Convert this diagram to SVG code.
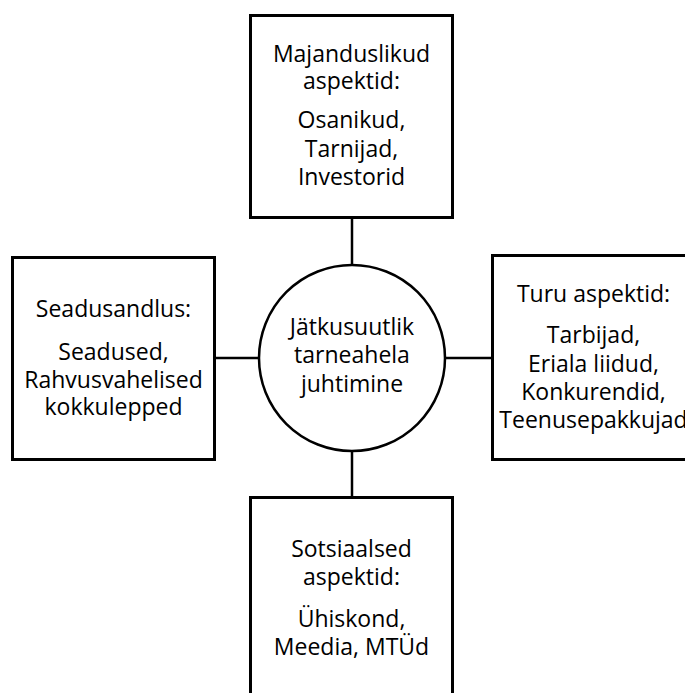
<svg xmlns="http://www.w3.org/2000/svg" width="685" height="693" viewBox="0 0 685 693">
<style>
.box{fill:#fff;stroke:#000;stroke-width:3}
.circ{fill:#fff;stroke:#000;stroke-width:2.5}
.con{stroke:#000;stroke-width:2.5;fill:none}
text{font-family:"Open Sans","Liberation Sans",Arial,sans-serif;font-size:23px;fill:#000;text-anchor:middle}
</style>
<rect width="685" height="693" fill="#fff"/>
<g id="connectors">
<line class="con" x1="352" y1="218" x2="352" y2="266"/>
<line class="con" x1="352" y1="451" x2="352" y2="497"/>
<line class="con" x1="215" y1="358" x2="259" y2="358"/>
<line class="con" x1="445" y1="358" x2="492" y2="358"/>
</g>
<g id="top">
<rect class="box" x="250.5" y="15.5" width="202" height="202"/>
<text x="351.5" y="62">Majanduslikud</text>
<text x="351.5" y="89">aspektid:</text>
<text x="351.5" y="128">Osanikud,</text>
<text x="351.5" y="157">Tarnijad,</text>
<text x="351.5" y="185">Investorid</text>
</g>
<g id="left">
<rect class="box" x="12.5" y="257.5" width="202" height="202"/>
<text x="113.5" y="317">Seadusandlus:</text>
<text x="113.5" y="360">Seadused,</text>
<text x="113.5" y="388">Rahvusvahelised</text>
<text x="113.5" y="415">kokkulepped</text>
</g>
<g id="center">
<circle class="circ" cx="352" cy="358" r="93"/>
<text x="352" y="335">Jätkusuutlik</text>
<text x="352" y="363">tarneahela</text>
<text x="352" y="392">juhtimine</text>
</g>
<g id="right">
<rect class="box" x="492.5" y="255.5" width="202" height="204"/>
<text x="593.5" y="302">Turu aspektid:</text>
<text x="593.5" y="343">Tarbijad,</text>
<text x="593.5" y="372">Eriala liidud,</text>
<text x="593.5" y="400">Konkurendid,</text>
<text x="593.5" y="428">Teenusepakkujad</text>
</g>
<g id="bottom">
<rect class="box" x="250.5" y="497.5" width="202" height="210"/>
<text x="351.5" y="557">Sotsiaalsed</text>
<text x="351.5" y="585">aspektid:</text>
<text x="351.5" y="627">Ühiskond,</text>
<text x="351.5" y="655">Meedia, MTÜd</text>
</g>
</svg>
